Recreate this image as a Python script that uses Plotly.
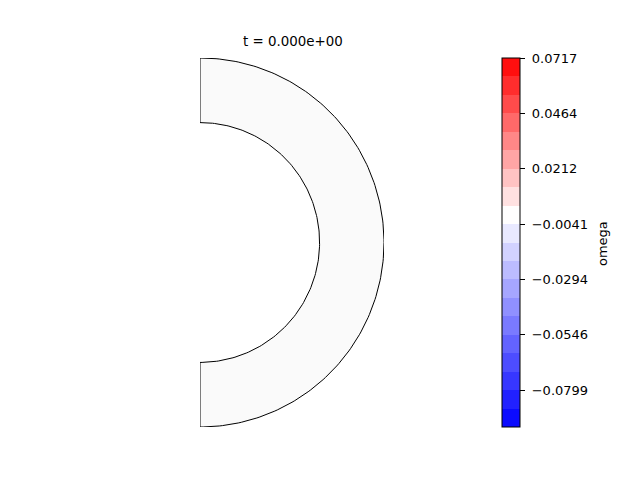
import numpy as np
import plotly.graph_objects as go

# --- data ---
title_text = "t = 0.000e+00"
cbar_label = "omega"
r_inner = 0.65
r_outer = 1.0
omega_field_value = 0.0  # field is ~0 everywhere at t=0
cbar_min = -0.0967
cbar_max = 0.0717
tick_vals = [0.0717, 0.0464, 0.0212, -0.0041, -0.0294, -0.0546, -0.0799]
tick_text = ["0.0717", "0.0464", "0.0212", "\u22120.0041", "\u22120.0294", "\u22120.0546", "\u22120.0799"]
# band colours from bottom (most negative) to top (most positive)
band_colors = [
    "rgb(11,11,255)", "rgb(33,33,255)", "rgb(55,55,255)", "rgb(77,77,255)",
    "rgb(99,99,255)", "rgb(122,122,255)", "rgb(144,144,255)", "rgb(166,166,255)",
    "rgb(188,188,255)", "rgb(210,210,255)", "rgb(233,233,255)", "rgb(255,254,254)",
    "rgb(255,225,225)", "rgb(255,195,195)", "rgb(255,165,165)", "rgb(255,135,135)",
    "rgb(255,105,105)", "rgb(255,75,75)", "rgb(255,45,45)", "rgb(255,15,15)",
]

W, H = 640, 480
OFF = 8  # page body margin offset
n = len(band_colors)
colorscale = []
for i, c in enumerate(band_colors):
    colorscale.append([i / n, c])
    colorscale.append([(i + 1) / n, c])

fill_col = "rgb(250,250,250)"

th_out = np.linspace(np.pi / 2, -np.pi / 2, 181)
th_in = np.linspace(-np.pi / 2, np.pi / 2, 181)
xs = np.concatenate([r_outer * np.cos(th_out), r_inner * np.cos(th_in), [0.0]])
ys = np.concatenate([r_outer * np.sin(th_out), r_inner * np.sin(th_in), [r_outer]])

def px(x):
    return (x - OFF) / W

def py(y):
    return 1 - (y - OFF) / H

fig = go.Figure()
fig.add_trace(go.Scatter(
    x=xs, y=ys, mode="lines", fill="toself", fillcolor=fill_col,
    line=dict(color="black", width=1), hoverinfo="skip", showlegend=False,
))
# colorbar carrier
fig.add_trace(go.Scatter(
    x=[None], y=[None], mode="markers", showlegend=False,
    marker=dict(
        color=[omega_field_value], colorscale=colorscale, cmin=cbar_min, cmax=cbar_max,
        showscale=True,
        colorbar=dict(
            x=px(502), xanchor="left", y=py(242.5), yanchor="middle",
            len=369, lenmode="pixels", thickness=18, thicknessmode="pixels",
            xpad=0, ypad=0, outlinecolor="black", outlinewidth=1,
            ticks="outside", ticklen=5, tickwidth=1, tickcolor="black",
            tickvals=tick_vals, ticktext=["\u2008" + t for t in tick_text],
            tickfont=dict(family="DejaVu Sans", size=13, color="black"),
        ),
    ),
))

fig.update_layout(
    width=W, height=H, margin=dict(l=0, r=0, t=0, b=0),
    paper_bgcolor="white", plot_bgcolor="white",
    xaxis=dict(domain=[px(200), px(384)], range=[0, r_outer], visible=False),
    yaxis=dict(domain=[py(427), py(58)], range=[-r_outer, r_outer], visible=False),
    annotations=[
        dict(text=title_text, x=px(293), y=py(41.3), xref="paper", yref="paper",
             xanchor="center", yanchor="middle", showarrow=False,
             font=dict(family="DejaVu Sans", size=13.4, color="black")),
        dict(text=cbar_label, x=px(602), y=py(244), xref="paper", yref="paper",
             xanchor="center", yanchor="middle", showarrow=False, textangle=-90,
             font=dict(family="DejaVu Sans", size=13, color="black")),
    ],
)

fig.write_html("out.html")
